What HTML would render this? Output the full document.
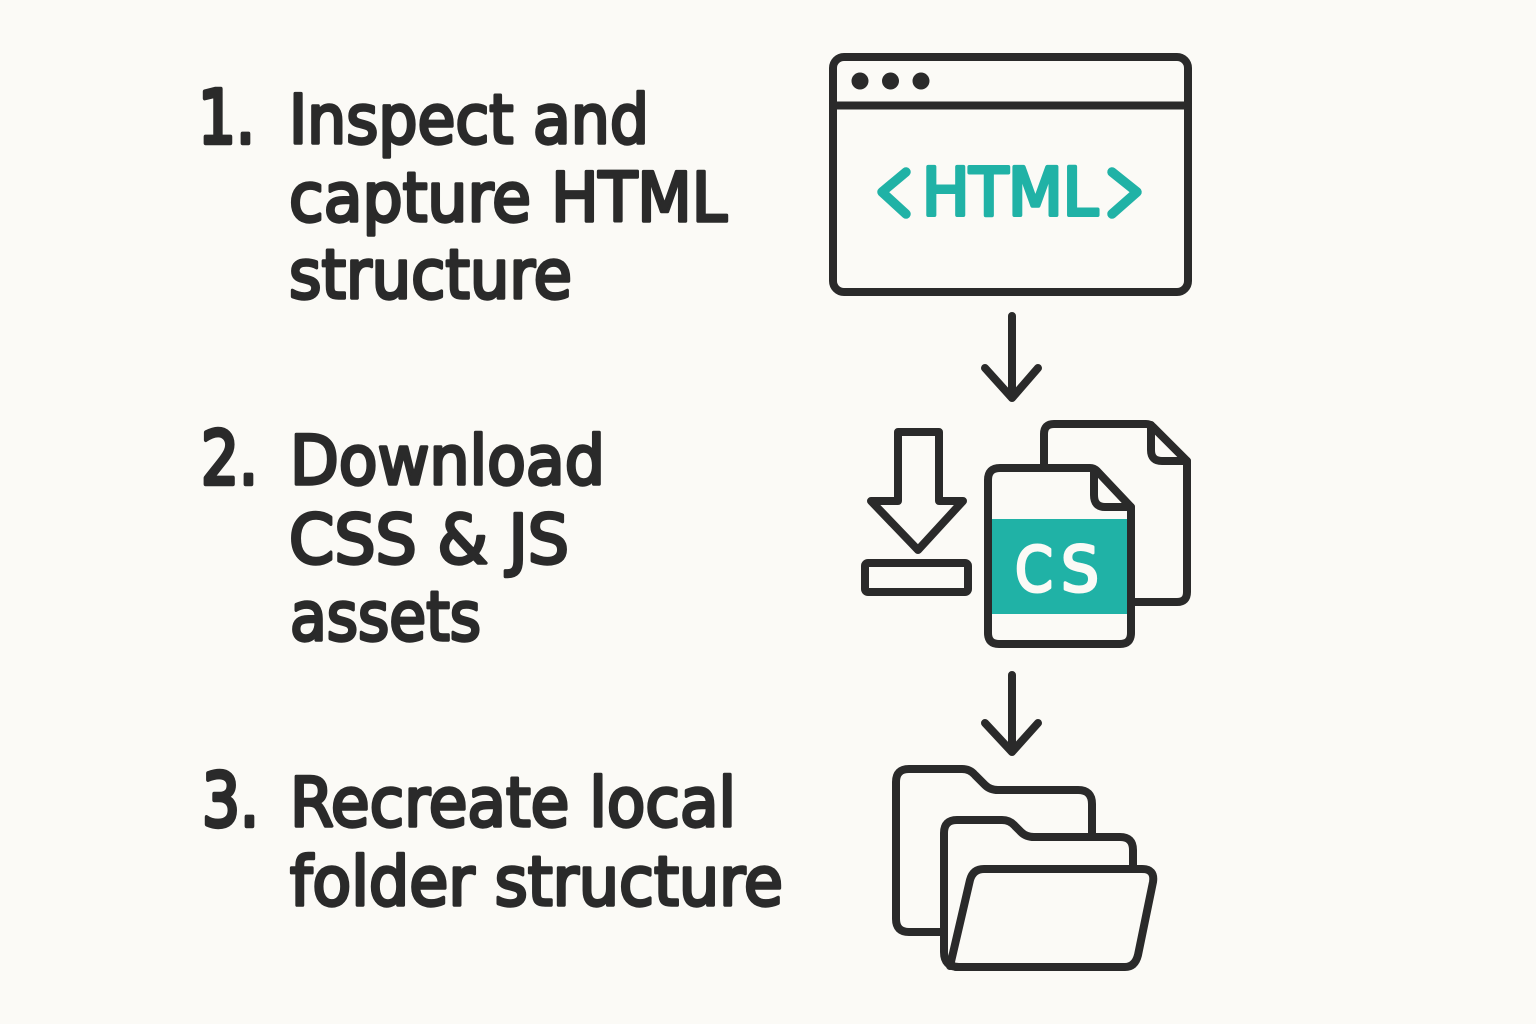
<!DOCTYPE html>
<html>
<head>
<meta charset="utf-8">
<style>
html,body{margin:0;padding:0;background:#fbfaf6;}
svg{display:block;}
text{font-family:"DejaVu Sans","Liberation Sans",sans-serif;fill:#2a2a2a;stroke:#2a2a2a;stroke-width:3.4px;stroke-linejoin:round;stroke-linecap:round;}
.t{font-size:68px;}
.n{font-size:74px;stroke-width:4.4px;}
</style>
</head>
<body>
<svg width="1536" height="1024" viewBox="0 0 1536 1024" xmlns="http://www.w3.org/2000/svg">
<rect width="1536" height="1024" fill="#fbfaf6"/>
<text class="n" x="198" y="143" textLength="57" lengthAdjust="spacingAndGlyphs">1.</text>
<text class="t" x="289" y="143" textLength="360" lengthAdjust="spacingAndGlyphs">Inspect and</text>
<text class="t" x="289" y="221" textLength="438" lengthAdjust="spacingAndGlyphs">capture HTML</text>
<text class="t" x="289" y="298" textLength="283" lengthAdjust="spacingAndGlyphs">structure</text>
<text class="n" x="201" y="484" textLength="57" lengthAdjust="spacingAndGlyphs">2.</text>
<text class="t" x="290" y="484" textLength="315" lengthAdjust="spacingAndGlyphs">Download</text>
<text class="t" x="289" y="563" textLength="280" lengthAdjust="spacingAndGlyphs">CSS &amp; JS</text>
<text class="t" x="290" y="640" textLength="191" lengthAdjust="spacingAndGlyphs">assets</text>
<text class="n" x="202" y="826" textLength="57" lengthAdjust="spacingAndGlyphs">3.</text>
<text class="t" x="290" y="826" textLength="446" lengthAdjust="spacingAndGlyphs">Recreate local</text>
<text class="t" x="290" y="905" textLength="493" lengthAdjust="spacingAndGlyphs">folder structure</text>

<rect x="992" y="519" width="136" height="95" fill="#20b2a6"/>
<g fill="none" stroke="#2a2a2a" stroke-width="8" stroke-linecap="round" stroke-linejoin="round">
<rect x="833" y="57" width="355" height="235" rx="11"/>
<line x1="833" y1="105.5" x2="1188" y2="105.5"/>
<path d="M1012 316V398M985 368L1012 398L1038 368"/>
<path d="M1012 675V752M985 723L1012 752L1038 723"/>
<path d="M898 432H939V501H963L918 550L871 501H898Z"/>
<rect x="865" y="563" width="103" height="29" rx="3"/>
<path d="M1044 466V434Q1044 424 1054 424H1146Q1150 424 1153 427L1187 461V592Q1187 602 1177 602H1134"/>
<path d="M1151 425V450Q1151 461 1162 461H1187"/>
<path d="M1000 468H1090Q1094 468 1097 471L1131 507V633Q1131 644 1120 644H999Q988 644 988 633V480Q988 468 1000 468Z"/>
<path d="M1094 470V495Q1094 507 1105 507H1131"/>
<path d="M943 932H909Q896 932 896 919V782Q896 769 909 769H962Q970 769 975 775L985 785Q990 790 998 790H1078Q1092 790 1092 804V836"/>
<path d="M956 967H1125Q1135 967 1138 955L1153 882Q1155 869 1142 869H984Q973 869 970 880L950 966"/>
<path d="M1133 868V850Q1133 837 1120 837H1034Q1026 837 1021 832L1015 826Q1010 820 1002 820H957Q944 820 944 833V952Q944 967 959 967"/>
</g>
<g fill="#2a2a2a">
<circle cx="860" cy="81" r="8.5"/>
<circle cx="890.5" cy="81" r="8.5"/>
<circle cx="921" cy="81" r="8.5"/>
</g>
<g fill="none" stroke="#20b2a6" stroke-width="9.5" stroke-linecap="round" stroke-linejoin="round">
<path d="M906 172L882 192L906 214"/>
<path d="M1112 172L1137 192L1112 214"/>
</g>
<text x="922" y="215" textLength="176" lengthAdjust="spacingAndGlyphs" style="font-size:66px;fill:#20b2a6;stroke:#20b2a6;stroke-width:4px">HTML</text>
<text x="1015" y="591" textLength="38" lengthAdjust="spacingAndGlyphs" style="font-size:62px;fill:#fbfaf6;stroke:#fbfaf6;stroke-width:3px">C</text>
<text x="1061" y="591" textLength="38" lengthAdjust="spacingAndGlyphs" style="font-size:62px;fill:#fbfaf6;stroke:#fbfaf6;stroke-width:3px">S</text>
</svg>
</body>
</html>
